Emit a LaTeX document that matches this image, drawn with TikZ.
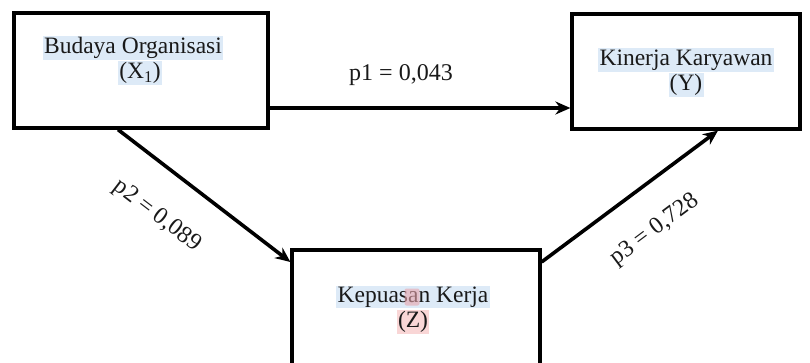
\documentclass[tikz,border=0pt]{standalone}
\usepackage{fontspec}
\setmainfont{Liberation Serif}
\usetikzlibrary{calc,arrows.meta}
\definecolor{hlblue}{HTML}{DDEAF7}
\definecolor{hlpink}{HTML}{F9D6D6}
\definecolor{markpink}{HTML}{E8A4AC}
\begin{document}
\begin{tikzpicture}[x=1pt,y=-1pt,
  varbox/.style={draw=black,line width=3.2pt,inner sep=0pt},
  txt/.style={font=\fontsize{23.5}{23.5}\selectfont,inner sep=1.2pt,fill=hlblue,text=black!90},
  lbl/.style={font=\fontsize{24}{24}\selectfont,inner sep=0pt,text=black!90},
  link/.style={draw=black,line width=3.6pt,-{Stealth[length=15pt,width=13pt]}}
]
\useasboundingbox (0,0) rectangle (810,362);

% variable boxes
\node[varbox,minimum width=254pt,minimum height=115pt] (x1) at (141,70.5) {};
\node[varbox,minimum width=228pt,minimum height=115pt] (yv) at (686,71.5) {};
\node[varbox,minimum width=248pt,minimum height=122pt] (zv) at (416,311) {};

% box texts
\node[txt] (x1a) at (133,48) {Budaya Organisasi};
\node[txt] (x1b) at (140,73) {(X\textsubscript{1})};
\node[txt] (ya) at (686,60) {Kinerja Karyawan};
\node[txt] (yb) at (686,85) {(Y)};
\node[txt] (za) at (413,297) {Kepuasan Kerja};
\node[txt,fill=hlpink] (zb) at (413,322) {(Z)};
\node[fill=markpink,opacity=0.6,rounded corners=2pt,minimum width=15pt,minimum height=17pt,inner sep=0pt] (zm) at (412,297) {};

% paths
\coordinate (p1s) at ($(x1.east)+(0,37.5)$);
\draw[link] (p1s) -- (p1s -| yv.west);
\coordinate (p2s) at ($(x1.south)+(-23,0)$);
\coordinate (p2e) at ($(zv.west)+(0,-49)$);
\draw[link] (p2s) -- (p2e);
\coordinate (p3s) at ($(zv.east)+(0,-49)$);
\coordinate (p3e) at ($(yv.south)+(32,0)$);
\draw[link] (p3s) -- (p3e);

% path coefficients
\node[lbl] (l1) at (401,75) {p1 = 0,043};
\node[lbl,rotate=-37.5] (l2) at (157,216) {p2 = 0,089};
\node[lbl,rotate=36.8] (l3) at (655,230) {p3 = 0,728};
\end{tikzpicture}
\end{document}
